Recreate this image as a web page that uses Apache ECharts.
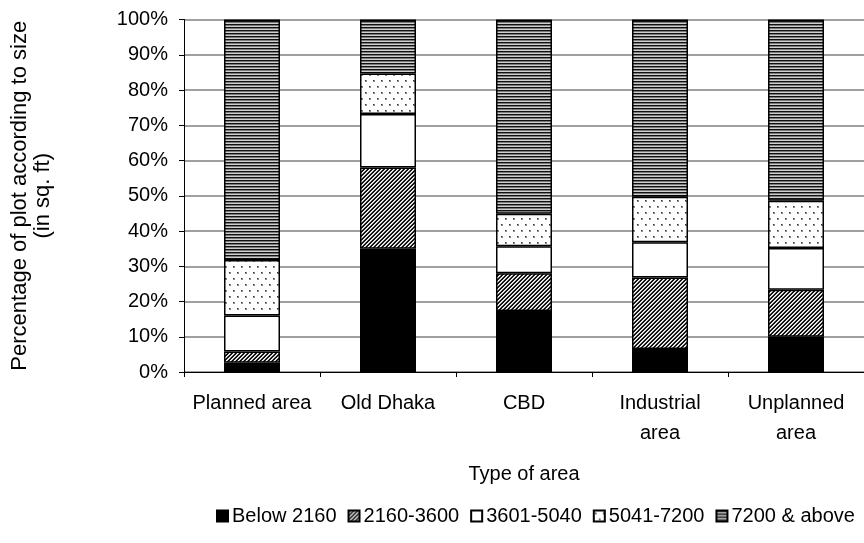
<!DOCTYPE html>
<html>
<head>
<meta charset="utf-8">
<script src="https://cdn.jsdelivr.net/npm/echarts@6/dist/echarts.min.js"></script>
<style>
  html, body { margin: 0; padding: 0; background: #fff; }
  #chart { width: 864px; height: 543px; }
</style>
</head>
<body>
<div id="chart"></div>
<script>
// Plot size distribution by type of area (percent of plots, stacked to 100%)
const categories = ['Planned area', 'Old Dhaka', 'CBD', 'Industrial area', 'Unplanned area'];
const seriesNames = ['Below 2160', '2160-3600', '3601-5040', '5041-7200', '7200 & above'];
const below2160   = [2.6, 35.0, 17.3, 6.5, 10.0];
const s2160_3600  = [3.2, 23.0, 10.7, 20.3, 13.3];
const s3601_5040  = [10.2, 15.2, 7.7, 10.0, 11.9];
const s5041_7200  = [15.8, 11.5, 9.2, 12.9, 13.4];
const s7200_above = [68.2, 15.3, 55.1, 50.3, 51.4];
const yTicks = [0, 10, 20, 30, 40, 50, 60, 70, 80, 90, 100];

const FONT = '"Liberation Sans", Arial, sans-serif';

// Small canvas tiles used as fill patterns
function tile(w, h, paint) {
  const c = document.createElement('canvas');
  c.width = w; c.height = h;
  const ctx = c.getContext('2d');
  ctx.fillStyle = '#fff';
  ctx.fillRect(0, 0, w, h);
  paint(ctx);
  return c;
}

// "/" diagonal hatch
const diagTile = tile(8, 8, ctx => {
  const shades = ['#000', '#2a2a2a', '#fff', '#b8b8b8'];
  for (let y = 0; y < 8; y++) {
    for (let x = 0; x < 8; x++) {
      ctx.fillStyle = shades[(x + y) % 4];
      ctx.fillRect(x, y, 1, 1);
    }
  }
});

// horizontal pinstripes
const stripeTile = tile(4, 3, ctx => {
  const shades = ['#111111', '#7a7a7a', '#cfcfcf'];
  for (let y = 0; y < 3; y++) {
    ctx.fillStyle = shades[y];
    ctx.fillRect(0, y, 4, 1);
  }
});

// staggered dots
const dotTile = tile(8, 12, ctx => {
  ctx.fillStyle = '#8a8a8a';
  ctx.fillRect(1, 2, 2, 2);
  ctx.fillRect(5, 8, 2, 2);
  ctx.fillStyle = '#333';
  ctx.fillRect(1, 2, 1, 1);
  ctx.fillRect(5, 8, 1, 1);
});

const fills = [
  '#000000',
  { image: diagTile, repeat: 'repeat' },
  '#ffffff',
  { image: dotTile, repeat: 'repeat' },
  { image: stripeTile, repeat: 'repeat' }
];
const values = [below2160, s2160_3600, s3601_5040, s5041_7200, s7200_above];

const chart = echarts.init(document.getElementById('chart'), null, { renderer: 'canvas' });

chart.setOption({
  animation: false,
  backgroundColor: '#fff',
  textStyle: { fontFamily: FONT, color: '#000' },
  grid: { left: 183, top: 19.5, width: 690, height: 352.5, containLabel: false },
  legend: {
    bottom: 12,
    left: 211,
    width: 660,
    itemWidth: 11,
    itemHeight: 11,
    itemGap: 11,
    icon: 'rect',
    textStyle: { fontFamily: FONT, fontSize: 20, color: '#000', padding: [0, 0, 0, -1] },
    data: seriesNames
  },
  xAxis: {
    type: 'category',
    data: categories,
    name: 'Type of area',
    nameLocation: 'middle',
    nameGap: 92,
    nameTextStyle: { fontFamily: FONT, fontSize: 20, color: '#000' },
    axisLine: { lineStyle: { color: '#000', width: 1 } },
    axisTick: { show: true, length: 5, lineStyle: { color: '#000' } },
    axisLabel: {
      fontFamily: FONT, fontSize: 20, color: '#000', margin: 16, lineHeight: 30,
      interval: 0,
      formatter: name => name.length > 12 ? name.replace(' ', '\n') : name
    }
  },
  yAxis: {
    type: 'value',
    min: yTicks[0],
    max: yTicks[yTicks.length - 1],
    interval: 10,
    name: 'Percentage of plot according to size\n(in sq. ft)',
    nameLocation: 'middle',
    nameGap: 130,
    nameTextStyle: { fontFamily: FONT, fontSize: 22, color: '#000', lineHeight: 23 },
    axisLine: { show: true, lineStyle: { color: '#000', width: 1 } },
    axisTick: { show: true, length: 5, lineStyle: { color: '#000' } },
    axisLabel: { fontFamily: FONT, fontSize: 20, color: '#000', margin: 16, formatter: '{value}%' },
    splitLine: { show: true, lineStyle: { color: '#808080', width: 1.5 } }
  },
  series: seriesNames.map((name, i) => ({
    name,
    type: 'bar',
    stack: 'total',
    barWidth: 56,
    data: values[i],
    itemStyle: { color: fills[i], borderColor: '#000', borderWidth: 1.5 },
    emphasis: { disabled: true }
  }))
});
</script>
</body>
</html>
